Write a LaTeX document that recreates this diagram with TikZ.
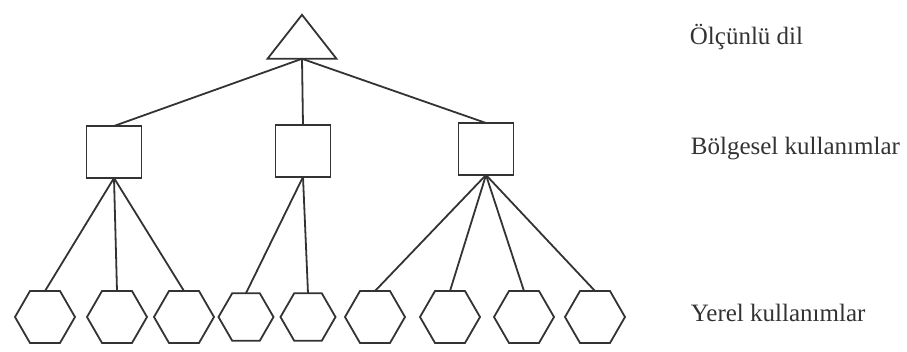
\documentclass[tikz,border=0pt]{standalone}
\usepackage{fontspec}
\setmainfont{Liberation Serif}
\usetikzlibrary{shapes.geometric}

\begin{document}
\begin{tikzpicture}[
  x=0.5pt, y=-0.5pt,
  line width=0.9pt, black!80,
  top/.style={draw, isosceles triangle, shape border rotate=90,
    isosceles triangle stretches, minimum width=34.5pt, minimum height=22pt,
    inner sep=0pt, outer sep=0pt},
  region/.style={draw, rectangle, minimum width=27.5pt, minimum height=26pt,
    inner sep=0pt, outer sep=0pt},
  local/.style={draw, regular polygon, regular polygon sides=6,
    minimum size=30pt, inner sep=0pt, outer sep=0pt},
  lbl/.style={anchor=west, inner sep=0pt, font=\fontsize{12.5}{14}\selectfont}
]
\useasboundingbox (0,0) rectangle (907,352);

% standard language
\node[top] (std) at (302,42) {};

% regional uses
\node[region] (r1) at (114,152) {};
\node[region] (r2) at (303,151) {};
\node[region] (r3) at (486,149) {};

% local uses
\node[local] (l1) at (45,317) {};
\node[local] (l2) at (117,317) {};
\node[local] (l3) at (184,317) {};
\node[local, minimum size=27.5pt] (l4) at (246,317) {};
\node[local, minimum size=27.5pt] (l5) at (308,317) {};
\node[local] (l6) at (375,317) {};
\node[local] (l7) at (450,317) {};
\node[local] (l8) at (524,317) {};
\node[local] (l9) at (595,317) {};

% level labels
\node[lbl] (t1) at (689,37) {Ölçünlü dil};
\node[lbl] (t2) at (690,149) {Bölgesel kullanımlar};
\node[lbl] (t3) at (690,313) {Yerel kullanımlar};

\draw (std.south) -- (r1.north);
\draw (std.south) -- (r2.north);
\draw (std.south) -- (r3.north);
\draw (r1.south) -- (l1.north);
\draw (r1.south) -- (l2.north);
\draw (r1.south) -- (l3.north);
\draw (r2.south) -- (l4.north);
\draw (r2.south) -- (l5.north);
\draw (r3.south) -- (l6.north);
\draw (r3.south) -- (l7.north);
\draw (r3.south) -- (l8.north);
\draw (r3.south) -- (l9.north);
\end{tikzpicture}
\end{document}
